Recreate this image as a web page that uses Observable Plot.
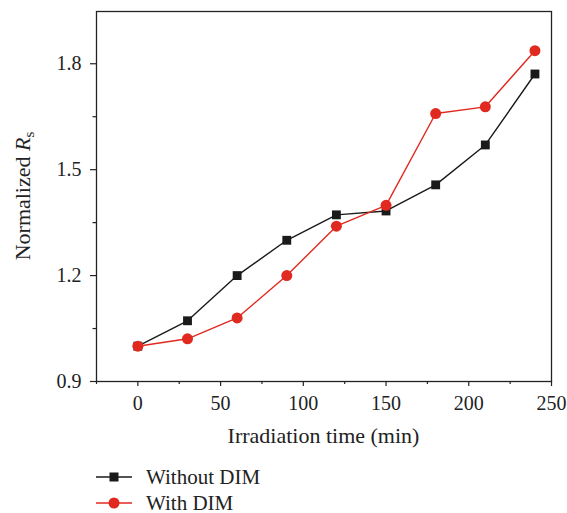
<!DOCTYPE html>
<html><head><meta charset="utf-8">
<script src="https://cdn.jsdelivr.net/npm/d3@7"></script>
<script src="https://cdn.jsdelivr.net/npm/@observablehq/plot@0.6"></script>
<style>
body{margin:0;background:#fff;font-family:"Liberation Serif","DejaVu Serif",serif;}
#legend{position:absolute;left:96px;top:464px;font-size:21px;color:#222;line-height:1;}
.row{display:flex;align-items:center;height:26px;}
.row svg{margin-right:14px;}
</style>
</head><body>
<div id="chart"></div>
<div id="legend"></div>
<script>
const times = [0, 30, 60, 90, 120, 150, 180, 210, 240];
const withoutDIM = [1.0, 1.072, 1.2, 1.3, 1.372, 1.383, 1.457, 1.57, 1.771];
const withDIM = [1.0, 1.021, 1.08, 1.2, 1.34, 1.399, 1.659, 1.678, 1.837];
const seriesNames = ["Without DIM", "With DIM"];
const seriesColors = ["#1a1a1a", "#e0291f"];
const xMajor = [0, 50, 100, 150, 200, 250];
const xMinor = [-25, 25, 75, 125, 175, 225];
const yMajor = [0.9, 1.2, 1.5, 1.8];
const yMinor = [1.05, 1.35, 1.65];

const dA = times.map((t, i) => ({t, v: withoutDIM[i]}));
const dB = times.map((t, i) => ({t, v: withDIM[i]}));

const chart = Plot.plot({
  width: 567, height: 455,
  marginLeft: 96, marginRight: 16, marginTop: 11, marginBottom: 74,
  style: {fontFamily: "Liberation Serif, DejaVu Serif, serif", fontSize: "20px", color: "#222", background: "#fff"},
  x: {domain: [-25, 250]},
  y: {domain: [0.9, 1.948]},
  marks: [
    Plot.frame({stroke: "#222", strokeWidth: 1.3}),
    Plot.axisX(xMajor, {tickSize: 5, tickPadding: 9, fontSize: 20, label: null, strokeWidth: 1.2}),
    Plot.axisX(xMinor, {tickSize: 3, tickFormat: () => "", label: null, strokeWidth: 1.2}),
    Plot.axisY(yMajor, {tickSize: 6, tickPadding: 9, fontSize: 20, tickFormat: d3.format(".1f"), label: null, strokeWidth: 1.2}),
    Plot.axisY(yMinor, {tickSize: 3.5, tickFormat: () => "", label: null, strokeWidth: 1.2}),
    Plot.line(dA, {x: "t", y: "v", stroke: seriesColors[0], strokeWidth: 1.4}),
    Plot.line(dB, {x: "t", y: "v", stroke: seriesColors[1], strokeWidth: 1.4}),
    Plot.dot(dA, {x: "t", y: "v", symbol: "square", r: 5, fill: seriesColors[0], stroke: "none"}),
    Plot.dot(dB, {x: "t", y: "v", symbol: "circle", r: 5.5, fill: seriesColors[1], stroke: "none"})
  ]
});
document.getElementById("chart").appendChild(chart);

const svg = d3.select(chart);
svg.selectAll("text").style("font-size", "20px");

// axis titles
svg.append("text")
  .attr("x", (96 + 551) / 2).attr("y", 443)
  .attr("text-anchor", "middle").style("font-size", "22px").attr("fill", "#222")
  .text("Irradiation time (min)");
const yl = svg.append("text")
  .attr("transform", `translate(30,${(11 + 381) / 2}) rotate(-90)`)
  .attr("text-anchor", "middle").style("font-size", "22px").attr("fill", "#222");
yl.append("tspan").text("Normalized ");
yl.append("tspan").attr("font-style", "italic").text("R");
yl.append("tspan").style("font-size", "15px").attr("dy", 4).text("s");

// legend
const leg = document.getElementById("legend");
seriesNames.forEach((name, i) => {
  const row = document.createElement("div");
  row.className = "row";
  const s = d3.create("svg").attr("width", 36).attr("height", 14);
  s.append("line").attr("x1", 0).attr("x2", 36).attr("y1", 7).attr("y2", 7)
    .attr("stroke", seriesColors[i]).attr("stroke-width", 1.4);
  if (i === 0) s.append("rect").attr("x", 13.5).attr("y", 2.5).attr("width", 9).attr("height", 9).attr("fill", seriesColors[i]);
  else s.append("circle").attr("cx", 18).attr("cy", 7).attr("r", 5.5).attr("fill", seriesColors[i]);
  row.appendChild(s.node());
  const t = document.createElement("span");
  t.textContent = name;
  row.appendChild(t);
  leg.appendChild(row);
});
</script>
</body></html>
